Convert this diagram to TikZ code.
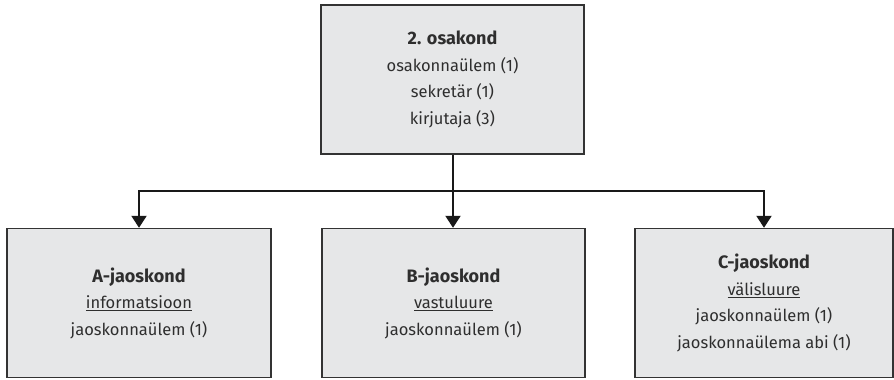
\documentclass[tikz,border=0pt]{standalone}
\usepackage{fontspec}
\setmainfont{Fira Sans}
\usetikzlibrary{arrows.meta}
\definecolor{boxfill}{HTML}{E6E7E8}
\definecolor{boxline}{HTML}{333333}
\newcommand{\unittitle}[1]{{\fontsize{18}{26.5}\selectfont\bfseries #1}}
\tikzset{
  unitbox/.style={draw=boxline, line width=1.4pt, fill=boxfill, minimum height=149pt,
    align=center, inner sep=0pt, font=\fontsize{16.5}{26.5}\selectfont, text=black!82},
  conn/.style={line width=2pt, black!90, -{Triangle[length=12pt,width=15pt]}},
  stem/.style={line width=2pt, black!90}
}
\begin{document}
\begin{tikzpicture}[x=1pt,y=-1pt]
\useasboundingbox (0,0) rectangle (894,380);
\node[unitbox, minimum width=263pt] (top) at (452.5,79.5)
  {\unittitle{2. osakond}\\osakonnaülem (1)\\sekretär (1)\\kirjutaja (3)};
\node[unitbox, minimum width=264pt] (a) at (139,303)
  {\unittitle{A-jaoskond}\\\underline{informatsioon}\\jaoskonnaülem (1)};
\node[unitbox, minimum width=263pt] (b) at (453.5,303)
  {\unittitle{B-jaoskond}\\\underline{vastuluure}\\jaoskonnaülem (1)};
\node[unitbox, minimum width=258pt] (c) at (764,303)
  {\unittitle{C-jaoskond}\\\underline{välisluure}\\jaoskonnaülem (1)\\jaoskonnaülema abi (1)};
\coordinate (j) at (453,191);
\draw[stem] (top.south -| j) -- (j);
\draw[conn] (j) -| (a.north);
\draw[conn] (j) -- (j |- b.north);
\draw[conn] (j) -| (c.north);
\end{tikzpicture}
\end{document}
